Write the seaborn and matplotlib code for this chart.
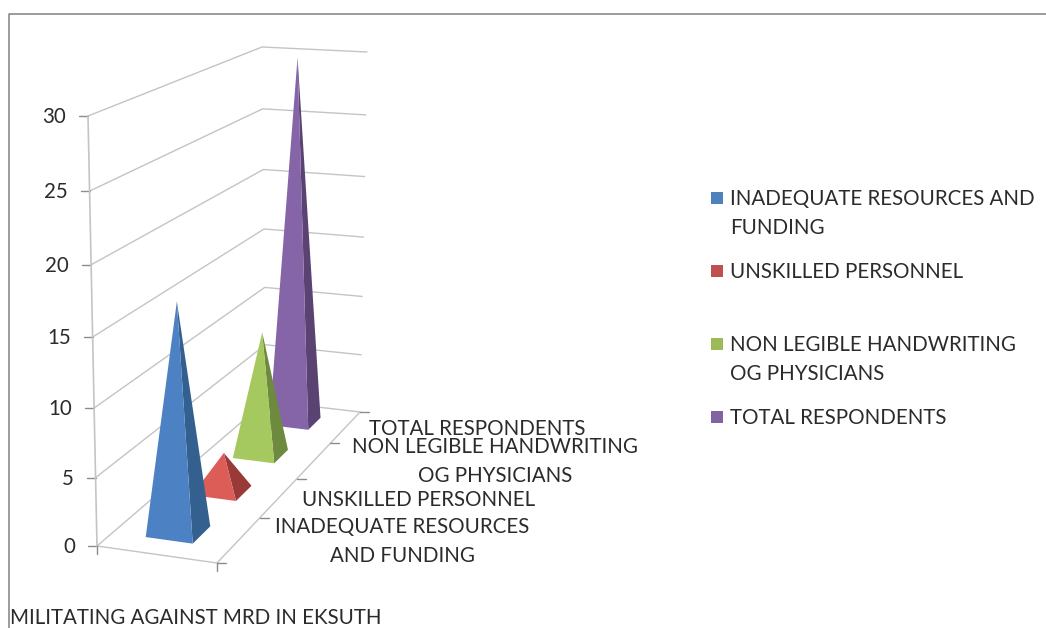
#!/usr/bin/env python3
"""3D pyramid chart of factors militating against MRD in EKSUTH."""

import matplotlib.pyplot as plt
import numpy as np
import seaborn as sns
from matplotlib.patches import Rectangle

CATEGORIES = [
    "INADEQUATE RESOURCES AND FUNDING",
    "UNSKILLED PERSONNEL",
    "NON LEGIBLE HANDWRITING OG PHYSICIANS",
    "TOTAL RESPONDENTS",
]
VALUES = [17, 3, 10, 30]
VALUE_TICKS = [0, 5, 10, 15, 20, 25, 30]
FACE_COLORS = ["#4C82C3", "#DC5C58", "#A5C85F", "#8565A8"]
SIDE_COLORS = ["#34608F", "#9A3A38", "#6D8A3E", "#5A4272"]
LEGEND_COLORS = ["#4F81BD", "#C0504D", "#9BBB59", "#8064A2"]

GRID = "#C4C4C4"
TICK = "#8C8C8C"
TEXT = "#2B2B2B"
FONT = 14.8

# box corners on screen, (front/back, left/right, bottom/top)
FLB, FRB, BLB, BRB = map(np.array, [(97, 546), (217, 563), (266, 401), (360, 412)])
FLT, FRT, BLT, BRT = map(np.array, [(88, 116), (209, 137), (262, 47), (367, 52)])


def project(x, depth, value):
    """Map chart coordinates to the screen: x 0-1, depth 0-4, value 0-30."""
    t = depth / len(CATEGORIES)
    t = 1.27 * t / (1 + 0.27 * t)
    u = value / VALUE_TICKS[-1]
    u = u / (1 + 0.058 * (1 - u))
    front_b = FLB + (FRB - FLB) * x
    back_b = BLB + (BRB - BLB) * x
    front_t = FLT + (FRT - FLT) * x
    back_t = BLT + (BRT - BLT) * x
    bottom = front_b + (back_b - front_b) * t
    top = front_t + (back_t - front_t) * t
    return bottom + (top - bottom) * u


def draw_walls(ax):
    """Draw the floor, the wall gridlines and the axis ticks."""
    for v in VALUE_TICKS:
        pts = np.array([project(0, 0, v), project(0, 4, v), project(1, 4, v)])
        ax.plot(pts[:, 0], pts[:, 1], color=GRID, lw=1, zorder=1)
        start = project(0, 0, v)
        ax.plot([start[0] - 9, start[0]], [start[1], start[1]], color=TICK, lw=1, zorder=1)
        ax.text(start[0] - 22, start[1] + 1, str(v), ha="right", va="center",
                fontsize=FONT, color=TEXT)
    axis = np.array([project(0, 0, 0), project(0, 0, VALUE_TICKS[-1])])
    ax.plot(axis[:, 0], axis[:, 1], color=GRID, lw=1.2, zorder=1)
    floor = np.array([project(0, 0, 0), project(1, 0, 0), project(1, 4, 0)])
    ax.plot(floor[:, 0], floor[:, 1], color=GRID, lw=1, zorder=1)
    for d in range(len(CATEGORIES) + 1):
        p = project(1, d, 0)
        ax.plot([p[0], p[0] + 9], [p[1], p[1]], color=TICK, lw=1, zorder=1)
    for x in (0, 1):
        p = project(x, 0, 0)
        ax.plot([p[0], p[0]], [p[1], p[1] + 8], color=TICK, lw=1, zorder=1)


def draw_pyramids(ax):
    """Draw one pyramid per category, back to front."""
    for i in reversed(range(len(VALUES))):
        x0, x1 = 0.28, 0.68
        d0, d1 = i + 0.3, i + 0.69
        apex = project((x0 + x1) / 2 + 0.02, (d0 + d1) / 2, VALUES[i])
        a = project(x0, d0, 0)
        b = project(x1, d0, 0)
        c = project(x1, d1, 0)
        z = 10 + (len(VALUES) - i) * 2
        front = np.array([a, b, apex])
        side = np.array([b, c, apex])
        ax.fill(side[:, 0], side[:, 1], color=SIDE_COLORS[i], lw=0, zorder=z)
        ax.fill(front[:, 0], front[:, 1], color=FACE_COLORS[i], lw=0, zorder=z + 1)


def draw_labels(ax):
    """Draw the category labels on the floor edge and the legend."""
    floor_labels = [
        ("TOTAL RESPONDENTS", 477, 429),
        ("NON LEGIBLE HANDWRITING", 495, 447),
        ("OG PHYSICIANS", 495, 476),
        ("UNSKILLED PERSONNEL", 419, 500),
        ("INADEQUATE RESOURCES", 402, 527),
        ("AND FUNDING", 402, 556),
    ]
    for label, x, y in floor_labels:
        ax.text(x, y, label, ha="center", va="center", fontsize=FONT, color=TEXT, zorder=40)

    legend_lines = [
        ("INADEQUATE RESOURCES AND", 199, 0),
        ("FUNDING", 228, None),
        ("UNSKILLED PERSONNEL", 272, 1),
        ("NON LEGIBLE HANDWRITING", 345, 2),
        ("OG PHYSICIANS", 374, None),
        ("TOTAL RESPONDENTS", 418, 3),
    ]
    for label, y, idx in legend_lines:
        ax.text(730, y, label, ha="left", va="center", fontsize=FONT, color=TEXT)
        if idx is not None:
            ax.add_patch(Rectangle((711, y - 7), 12, 12, color=LEGEND_COLORS[idx], lw=0))

    ax.text(10, 618, "MILITATING AGAINST MRD IN EKSUTH", ha="left", va="center",
            fontsize=FONT, color=TEXT)


def main():
    sns.set_theme(style="white")
    plt.rcParams["font.family"] = ["Lato", "DejaVu Sans"]
    fig, ax = plt.subplots(figsize=(10.46, 6.28), dpi=100)
    fig.subplots_adjust(0, 0, 1, 1)
    ax.set_xlim(0, 1046)
    ax.set_ylim(628, 0)
    ax.axis("off")

    # chart area border, only top and left are inside the crop
    ax.plot([9, 9, 1046], [628, 14, 14], color="#8A8A8A", lw=1.2)

    draw_walls(ax)
    draw_pyramids(ax)
    draw_labels(ax)
    fig.savefig("out.png", dpi=100)
    plt.close(fig)


if __name__ == "__main__":
    main()
